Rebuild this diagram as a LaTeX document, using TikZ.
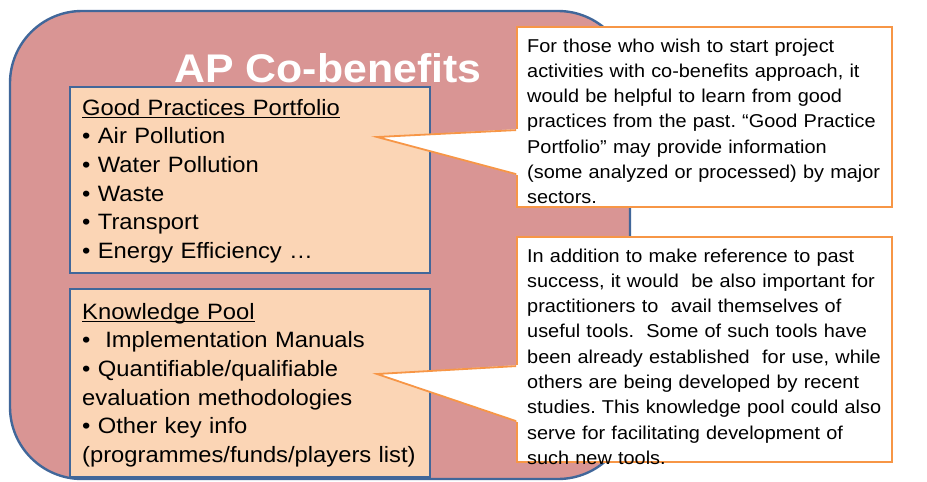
\documentclass[tikz,border=0pt]{standalone}
\usepackage{fontspec}
\setmainfont{Liberation Sans}[FakeStretch=1.07]
\usetikzlibrary{calc}
\frenchspacing
\newcommand{\myul}[1]{\setbox0\hbox{#1}\rlap{\vrule height -2pt depth 3.4pt width \wd0}\box0}
\definecolor{cofill}{HTML}{D99594}
\definecolor{edgeblue}{HTML}{41679A}
\definecolor{peach}{HTML}{FBD5B5}
\definecolor{calloutorange}{HTML}{F79646}
\tikzset{
  portfoliobox/.style={draw=edgeblue, line width=2pt, fill=peach, inner sep=0pt},
  bodytext/.style={anchor=base west, inner sep=0pt, text width=350pt, align=left, font=\fontsize{22.2}{28.7}\selectfont},
  calloutbox/.style={draw=calloutorange, line width=1.8pt, fill=white, inner sep=0pt},
  callouttext/.style={anchor=base west, inner sep=0pt, text width=365pt, align=left, font=\fontsize{18.6}{25.3}\selectfont},
  pointerline/.style={draw=calloutorange, line width=1.8pt, line join=miter}
}
\begin{document}
\begin{tikzpicture}[x=1pt,y=-1pt]
\useasboundingbox (0,0) rectangle (927,482);
\fill[white] (0,0) rectangle (927,482);
% main rounded shape
\node[draw=edgeblue, line width=2.4pt, fill=cofill, rounded corners=72pt,
      minimum width=620pt, minimum height=468pt, inner sep=0pt] (main) at (320,245) {};
\node[text=white, font=\fontsize{40}{40}\selectfont\bfseries, inner sep=0pt, anchor=base] (title) at (328,82) {AP Co-benefits};
% boxes
\node[portfoliobox, minimum width=360pt, minimum height=186pt] (gpp) at (250,180) {};
\node[portfoliobox, minimum width=360pt, minimum height=188pt] (kp) at (250,383) {};
\node[bodytext] (gpptext) at (82,115) {\myul{Good Practices Portfolio}\\
• Air Pollution\\
• Water Pollution\\
• Waste\\
• Transport\\
• Energy Efficiency …};
\node[bodytext] (kptext) at (82,319) {\myul{Knowledge Pool}\\
•~ Implementation Manuals\\
• Quantifiable/qualifiable\\
evaluation methodologies\\
• Other key info\\
(programmes/funds/players list)};
% callout 1
\node[calloutbox, minimum width=375pt, minimum height=180pt] (c1) at (704.5,117) {};
\coordinate (t1) at (377,137);
\fill[white] ($(c1.north west)+(2,103)$) -- (t1) -- ($(c1.north west)+(2,149)$) -- cycle;
\draw[pointerline] ($(c1.north west)+(0,104)$) -- (t1) -- ($(c1.north west)+(0,148)$);
\node[callouttext] (c1text) at (527,52) {For those who wish to start project\\
activities with co-benefits approach, it\\
would be helpful to learn from good\\
practices from the past. “Good Practice\\
Portfolio” may provide information\\
(some analyzed or processed) by major\\
sectors.};
% callout 2
\node[calloutbox, minimum width=375pt, minimum height=225pt] (c2) at (704.5,349.5) {};
\coordinate (t2) at (377,374);
\fill[white] ($(c2.north west)+(2,129)$) -- (t2) -- ($(c2.north west)+(2,186)$) -- cycle;
\draw[pointerline] ($(c2.north west)+(0,130)$) -- (t2) -- ($(c2.north west)+(0,185)$);
\node[callouttext] (c2text) at (527,262) {In addition to make reference to past\\
success, it would\ \ be also important for\\
practitioners to\ \ avail themselves of\\
useful tools.\ \ Some of such tools have\\
been already established\ \ for use, while\\
others are being developed by recent\\
studies. This knowledge pool could also\\
serve for facilitating development of\\
such new tools.};
\end{tikzpicture}
\end{document}
